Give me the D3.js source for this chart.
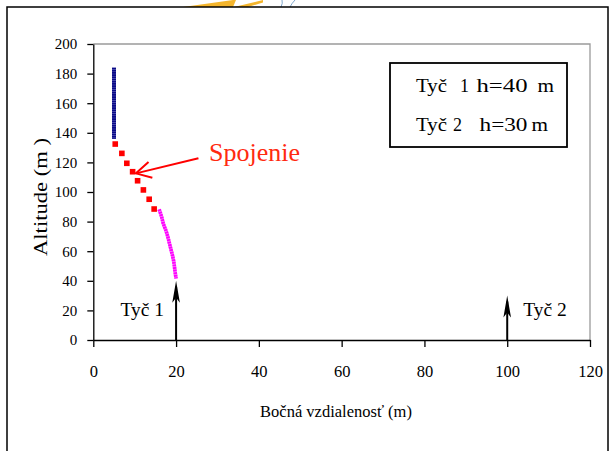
<!DOCTYPE html>
<html>
<head>
<meta charset="utf-8">
<script src="https://cdn.jsdelivr.net/npm/d3@7"></script>
<style>
  html, body { margin: 0; padding: 0; background: #fff; }
  svg { display: block; }
</style>
</head>
<body>
<script>
// Trajectory segments of the discharge (lateral distance x, altitude y), in metres
const leaderX = [5, 5];
const leaderY = [184, 136];

const junctionX = [5.3, 6.9, 8.1, 9.5, 10.7, 12.1, 13.5, 14.7];
const junctionY = [132.4, 126.1, 119.4, 113.7, 107.6, 101.4, 95.1, 88.5];

const upwardX = [15.9, 16.5, 16.9, 17.5, 18.0, 18.4, 18.8, 19.2, 19.5, 19.7, 20.0];
const upwardY = [88.3, 83.3, 78.8, 74.3, 69.8, 65.3, 60.8, 56.3, 51.8, 47.3, 41.5];

// Rods (position and height)
const rodNames = ["Tyč 1", "Tyč 2"];
const rodX = [20, 100];
const rodH = [40, 30];

// Axis ticks
const xTicks = [0, 20, 40, 60, 80, 100, 120];
const yTicks = [0, 20, 40, 60, 80, 100, 120, 140, 160, 180, 200];

// Annotation pointing at the junction segment
const noteText = "Spojenie";
const noteTail = [25.4, 122.8];
const noteTip = [10.3, 112.6];

const FONT = "Liberation Serif";
const W = 614, H = 451;
const svg = d3.select("body").append("svg").attr("width", W).attr("height", H);

function label(sel) {
  return sel.attr("font-family", FONT).attr("fill", "#000");
}

// page decoration above the frame
const deco = svg.append("g");
deco.append("path").attr("d", "M183,7 L233,0 L236,0 L233,7 Z").attr("fill", "#f4b52c");
deco.append("path").attr("d", "M234,7 L263,0 L263,2.5 L248,7 Z").attr("fill", "#f4b52c");
deco.append("path").attr("d", "M281,7 Q283,3 282,0").attr("fill", "none").attr("stroke", "#7fa6cc").attr("stroke-width", 1);
deco.append("path").attr("d", "M290,7 Q292,3 295,0").attr("fill", "none").attr("stroke", "#7fa6cc").attr("stroke-width", 1);

// outer frame
svg.append("rect").attr("x", 7).attr("y", 7).attr("width", 601).attr("height", 470)
  .attr("fill", "none").attr("stroke", "#000").attr("stroke-width", 1.5);

const x = d3.scaleLinear().domain([0, 120]).range([93.3, 590]);
const y = d3.scaleLinear().domain([0, 200]).range([340, 44]);

// plot area border (top and right)
svg.append("path")
  .attr("d", `M${x(0)},${y(200)} H${x(120)} V${y(0)}`)
  .attr("fill", "none").attr("stroke", "#9a9a9a").attr("stroke-width", 1.3);

// axes
const yAxis = svg.append("g").attr("transform", `translate(${x(0)},0)`)
  .call(d3.axisLeft(y).tickValues(yTicks).tickSize(6).tickSizeOuter(0).tickPadding(10));
const xAxis = svg.append("g").attr("transform", `translate(0,${y(0)})`)
  .call(d3.axisBottom(x).tickValues(xTicks).tickSize(7).tickSizeOuter(0).tickPadding(18));
[yAxis, xAxis].forEach(g => {
  g.attr("font-family", FONT);
  g.selectAll("path, line").attr("stroke", "#000").attr("stroke-width", 1.3);
  g.selectAll("text").call(label);
});
yAxis.attr("font-size", 15).selectAll("text").attr("font-size", 15);
xAxis.attr("font-size", 16.5).selectAll("text").attr("font-size", 16.5);

// axis titles
svg.append("text").attr("transform", `translate(46.5,197) rotate(-90)`)
  .attr("text-anchor", "middle").attr("font-size", 19.5)
  .attr("textLength", 118).attr("lengthAdjust", "spacingAndGlyphs")
  .call(label).text("Altitude (m )");
svg.append("text").attr("x", 336).attr("y", 417).attr("text-anchor", "middle")
  .attr("font-size", 16.5).call(label).text("Bočná vzdialenosť (m)");

const line = d3.line().x(d => x(d[0])).y(d => y(d[1]));

// leader: densely stacked dark-blue markers
const leaderPts = d3.zip(leaderX, leaderY);
svg.append("path").attr("d", line(leaderPts)).attr("fill", "none")
  .attr("stroke", "#5c5cb8").attr("stroke-width", 4);
svg.append("path").attr("d", line(leaderPts)).attr("fill", "none")
  .attr("stroke", "#0a0a86").attr("stroke-width", 4).attr("stroke-dasharray", "1.6,0.6");

// junction: separate red square markers
svg.append("g").selectAll("rect").data(d3.zip(junctionX, junctionY)).join("rect")
  .attr("x", d => x(d[0]) - 2.8).attr("y", d => y(d[1]) - 2.8)
  .attr("width", 5.6).attr("height", 5.6).attr("fill", "#ff0000");

// upward leader: densely stacked magenta markers
const upPts = d3.zip(upwardX, upwardY);
const curve = d3.line().x(d => x(d[0])).y(d => y(d[1])).curve(d3.curveMonotoneY);
svg.append("path").attr("d", curve(upPts)).attr("fill", "none")
  .attr("stroke", "#f7a8f7").attr("stroke-width", 3.6);
svg.append("path").attr("d", curve(upPts)).attr("fill", "none")
  .attr("stroke", "#ff00ff").attr("stroke-width", 3.6).attr("stroke-dasharray", "2,0.6");

// rods with arrowheads
function arrowHead(px, py) {
  return `M${px},${py} L${px + 3.8},${py + 22} L${px},${py + 17} L${px - 3.8},${py + 22} Z`;
}
rodX.forEach((rx, i) => {
  const px = x(rx);
  svg.append("line").attr("x1", px).attr("x2", px).attr("y1", y(0)).attr("y2", y(rodH[i]) + 6)
    .attr("stroke", "#000").attr("stroke-width", 2);
  svg.append("path").attr("d", arrowHead(px, y(rodH[i]))).attr("fill", "#000");
});
svg.append("text").attr("x", x(rodX[0]) - 12).attr("y", 316).attr("text-anchor", "end")
  .attr("font-size", 19.5).call(label).text(rodNames[0]);
svg.append("text").attr("x", x(rodX[1]) + 16).attr("y", 316).attr("text-anchor", "start")
  .attr("font-size", 19.5).call(label).text(rodNames[1]);

// annotation arrow
const tx = x(noteTail[0]), ty = y(noteTail[1]);
const hx = x(noteTip[0]), hy = y(noteTip[1]);
const ang = Math.atan2(ty - hy, tx - hx);
const wing = 17, spread = 0.5;
svg.append("line").attr("x1", tx).attr("y1", ty).attr("x2", hx).attr("y2", hy)
  .attr("stroke", "#ff0000").attr("stroke-width", 2);
svg.append("path")
  .attr("d", `M${hx + wing * Math.cos(ang - spread)},${hy + wing * Math.sin(ang - spread)} L${hx},${hy} L${hx + wing * Math.cos(ang + spread)},${hy + wing * Math.sin(ang + spread)}`)
  .attr("fill", "none").attr("stroke", "#ff0000").attr("stroke-width", 2);
svg.append("text").attr("x", 209).attr("y", 161).attr("font-size", 26)
  .attr("font-family", FONT).attr("fill", "#ff2a10").text(noteText);

// legend box: each piece placed and widened to its slot
svg.append("rect").attr("x", 390).attr("y", 63).attr("width", 177).attr("height", 84)
  .attr("fill", "#fff").attr("stroke", "#000").attr("stroke-width", 1.8);
const legendRows = [
  { parts: [["Tyč", 416, 31], ["1", 460, 9], ["h=" + rodH[0], 476.5, 51], ["m", 537.5, 16.5]], y: 92 },
  { parts: [["Tyč", 416, 31], ["2", 453, 9], ["h=" + rodH[1], 479.5, 48], ["m", 531.5, 16.5]], y: 131 }
];
legendRows.forEach(r => {
  r.parts.forEach(p => {
    svg.append("text").attr("x", p[1]).attr("y", r.y).attr("font-size", 19)
      .attr("textLength", p[2]).attr("lengthAdjust", "spacingAndGlyphs")
      .call(label).text(p[0]);
  });
});
</script>
</body>
</html>
